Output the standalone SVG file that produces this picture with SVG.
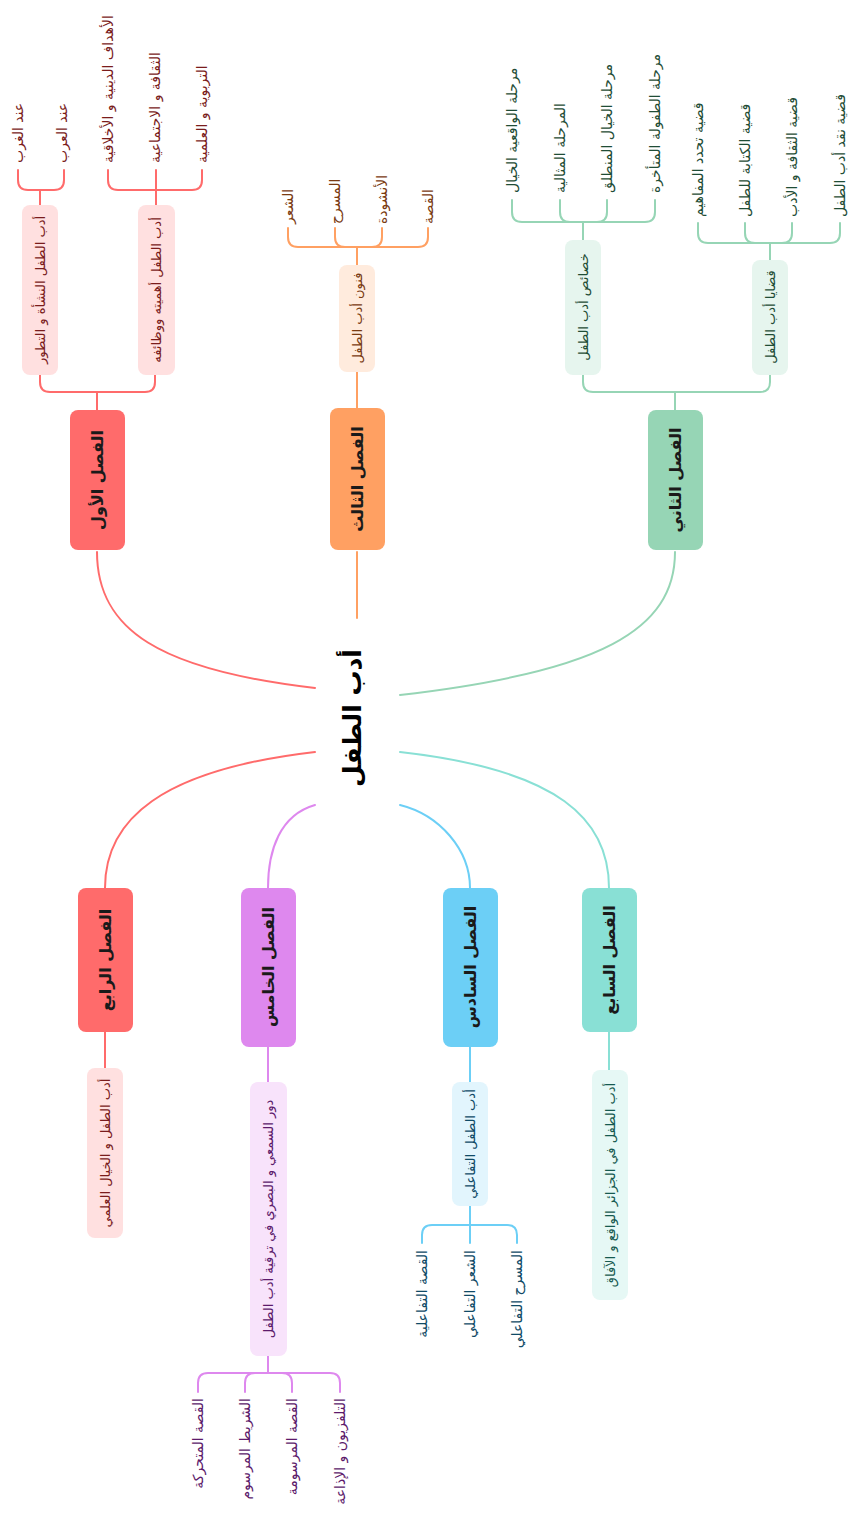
<svg xmlns="http://www.w3.org/2000/svg" width="849" height="1517" viewBox="0 0 849 1517">
<style>
text{font-family:"DejaVu Sans","Noto Sans",sans-serif;dominant-baseline:central}
.main{font-size:16px;font-weight:bold;fill:#1a1a1a;text-anchor:middle}
.sub{font-size:13px;text-anchor:middle}
.leafT{font-size:14px;text-anchor:start}
.leafB{font-size:14px;text-anchor:end}
.ln{fill:none;stroke-width:2;stroke-linecap:round}
.red{stroke:#FF6B6B}.org{stroke:#FFA062}.grn{stroke:#96D5B5}.pur{stroke:#DE88EE}.blu{stroke:#6CCFF6}.tea{stroke:#89E0D5}
.tRed{fill:#7a1c1c}.tOrg{fill:#7a3b12}.tGrn{fill:#1f4d36}.tPur{fill:#5c1a6b}.tBlu{fill:#0f4a66}.tTea{fill:#165a50}
</style>
<g id="connectors">
<path class="ln red" d="M315,688 C160,670 97,630 97,552"/>
<path class="ln grn" d="M400,695 C600,672 675,630 675,552"/>
<path class="ln org" d="M357,618 L357,552"/>
<path class="ln red" d="M315,752 C160,770 105,820 105,888"/>
<path class="ln pur" d="M315,805 C280,815 268,850 268,888"/>
<path class="ln blu" d="M400,805 C440,815 470,850 470,888"/>
<path class="ln tea" d="M400,752 C560,770 609,820 609,888"/>
<path class="ln red" d="M97,410 L97,392 M40,375 L40,382 Q40,392 50,392 L145,392 Q155,392 155,382 L155,375"/>
<path class="ln red" d="M40,205 L40,190 M18,170 L18,180 Q18,190 28,190 L54,190 Q64,190 64,180 L64,170"/>
<path class="ln red" d="M156,205 L156,190 M108,170 L108,180 Q108,190 118,190 L192,190 Q202,190 202,180 L202,170 M156,190 L156,170"/>
<path class="ln org" d="M357,408 L357,372 M357,265 L357,247 M288,228 L288,237 Q288,247 298,247 L418,247 Q428,247 428,237 L428,228 M335,228 L335,237 Q335,247 345,247 M382,228 L382,237 Q382,247 372,247"/>
<path class="ln grn" d="M675,410 L675,392 M583,375 L583,382 Q583,392 593,392 L760,392 Q770,392 770,382 L770,375"/>
<path class="ln grn" d="M583,240 L583,222 M512,200 L512,212 Q512,222 522,222 L645,222 Q655,222 655,212 L655,200 M560,200 L560,212 Q560,222 570,222 M607,200 L607,212 Q607,222 597,222"/>
<path class="ln grn" d="M770,260 L770,243 M698,223 L698,233 Q698,243 708,243 L830,243 Q840,243 840,233 L840,223 M745,223 L745,233 Q745,243 755,243 M792,223 L792,233 Q792,243 782,243"/>
<path class="ln red" d="M105,1032 L105,1068"/>
<path class="ln pur" d="M268,1047 L268,1082 M268,1356 L268,1373 M198,1392 L198,1383 Q198,1373 208,1373 L330,1373 Q340,1373 340,1383 L340,1392 M245,1392 L245,1383 Q245,1373 255,1373 M292,1392 L292,1383 Q292,1373 282,1373"/>
<path class="ln blu" d="M470,1047 L470,1082 M470,1206 L470,1243 M422,1243 L422,1235 Q422,1225 432,1225 L507,1225 Q517,1225 517,1235 L517,1243"/>
<path class="ln tea" d="M609,1032 L609,1070"/>
</g>
<g id="center">
<text x="352" y="718" transform="rotate(-90 352 718)" style="font-size:25px;font-weight:bold;fill:#000;text-anchor:middle">أدب الطفل</text>
</g>
<g id="ch1">
<rect x="70" y="410" width="55" height="140" rx="8" fill="#FF6B6B"/>
<text class="main" x="97" y="480" transform="rotate(-90 97 480)">الفصل الأول</text>
<rect x="22" y="205" width="36" height="170" rx="8" fill="#FFE0E0"/>
<text class="sub tRed" x="40" y="290" transform="rotate(-90 40 290)">أدب الطفل النشأة و التطور</text>
<rect x="138" y="205" width="37" height="170" rx="8" fill="#FFE0E0"/>
<text class="sub tRed" x="156" y="290" transform="rotate(-90 156 290)">أدب الطفل أهميته ووظائفه</text>
<text class="leafT tRed" x="18" y="163" transform="rotate(-90 18 163)">عند الغرب</text>
<text class="leafT tRed" x="62" y="163" transform="rotate(-90 62 163)">عند العرب</text>
<text class="leafT tRed" x="108" y="163" transform="rotate(-90 108 163)">الأهداف الدينية و الأخلاقية</text>
<text class="leafT tRed" x="155" y="163" transform="rotate(-90 155 163)">الثقافة و الاجتماعية</text>
<text class="leafT tRed" x="202" y="163" transform="rotate(-90 202 163)">التربوية و العلمية</text>
</g>
<g id="ch3">
<rect x="330" y="408" width="55" height="142" rx="8" fill="#FFA062"/>
<text class="main" x="357" y="479" transform="rotate(-90 357 479)">الفصل الثالث</text>
<rect x="339" y="265" width="36" height="107" rx="8" fill="#FFEBDD"/>
<text class="sub tOrg" x="357" y="318" transform="rotate(-90 357 318)">فنون أدب الطفل</text>
<text class="leafT tOrg" x="288" y="224" transform="rotate(-90 288 224)">الشعر</text>
<text class="leafT tOrg" x="335" y="224" transform="rotate(-90 335 224)">المسرح</text>
<text class="leafT tOrg" x="382" y="224" transform="rotate(-90 382 224)">الأنشودة</text>
<text class="leafT tOrg" x="428" y="224" transform="rotate(-90 428 224)">القصة</text>
</g>
<g id="ch2">
<rect x="648" y="410" width="55" height="140" rx="8" fill="#96D5B5"/>
<text class="main" x="675" y="480" transform="rotate(-90 675 480)">الفصل الثاني</text>
<rect x="565" y="240" width="36" height="135" rx="8" fill="#E6F5EE"/>
<text class="sub tGrn" x="583" y="307" transform="rotate(-90 583 307)">خصائص أدب الطفل</text>
<rect x="752" y="260" width="36" height="115" rx="8" fill="#E6F5EE"/>
<text class="sub tGrn" x="770" y="317" transform="rotate(-90 770 317)">قضايا أدب الطفل</text>
<text class="leafT tGrn" x="512" y="193" transform="rotate(-90 512 193)">مرحلة الواقعية الخيال</text>
<text class="leafT tGrn" x="560" y="193" transform="rotate(-90 560 193)">المرحلة المثالية</text>
<text class="leafT tGrn" x="607" y="193" transform="rotate(-90 607 193)">مرحلة الخيال المنطلق</text>
<text class="leafT tGrn" x="655" y="193" transform="rotate(-90 655 193)">مرحلة الطفولة المتأخرة</text>
<text class="leafT tGrn" x="698" y="217" transform="rotate(-90 698 217)">قضية تحدد المفاهيم</text>
<text class="leafT tGrn" x="745" y="217" transform="rotate(-90 745 217)">قضية الكتابة للطفل</text>
<text class="leafT tGrn" x="792" y="217" transform="rotate(-90 792 217)">قضية الثقافة و الأدب</text>
<text class="leafT tGrn" x="840" y="217" transform="rotate(-90 840 217)">قضية نقد أدب الطفل</text>
</g>
<g id="ch4">
<rect x="78" y="888" width="55" height="144" rx="8" fill="#FF6B6B"/>
<text class="main" x="105" y="960" transform="rotate(-90 105 960)">الفصل الرابع</text>
<rect x="87" y="1068" width="36" height="170" rx="8" fill="#FFE0E0"/>
<text class="sub tRed" x="105" y="1153" transform="rotate(-90 105 1153)">أدب الطفل و الخيال العلمي</text>
</g>
<g id="ch5">
<rect x="241" y="888" width="55" height="159" rx="8" fill="#DE88EE"/>
<text class="main" x="268" y="967" transform="rotate(-90 268 967)">الفصل الخامس</text>
<rect x="250" y="1082" width="37" height="274" rx="8" fill="#F8E3FB"/>
<text class="sub tPur" x="268" y="1219" transform="rotate(-90 268 1219)">دور السمعي و البصري في ترقية أدب الطفل</text>
<text class="leafB tPur" x="198" y="1398" transform="rotate(-90 198 1398)">القصة المتحركة</text>
<text class="leafB tPur" x="245" y="1398" transform="rotate(-90 245 1398)">الشريط المرسوم</text>
<text class="leafB tPur" x="292" y="1398" transform="rotate(-90 292 1398)">القصة المرسومة</text>
<text class="leafB tPur" x="340" y="1398" transform="rotate(-90 340 1398)">التلفزيون و الإذاعة</text>
</g>
<g id="ch6">
<rect x="443" y="888" width="55" height="159" rx="8" fill="#6CCFF6"/>
<text class="main" x="470" y="967" transform="rotate(-90 470 967)">الفصل السادس</text>
<rect x="452" y="1082" width="36" height="124" rx="8" fill="#E2F5FD"/>
<text class="sub tBlu" x="470" y="1144" transform="rotate(-90 470 1144)">أدب الطفل التفاعلي</text>
<text class="leafB tBlu" x="422" y="1250" transform="rotate(-90 422 1250)">القصة التفاعلية</text>
<text class="leafB tBlu" x="470" y="1250" transform="rotate(-90 470 1250)">الشعر التفاعلي</text>
<text class="leafB tBlu" x="517" y="1250" transform="rotate(-90 517 1250)">المسرح التفاعلي</text>
</g>
<g id="ch7">
<rect x="582" y="888" width="55" height="144" rx="8" fill="#89E0D5"/>
<text class="main" x="609" y="960" transform="rotate(-90 609 960)">الفصل السابع</text>
<rect x="592" y="1070" width="36" height="230" rx="8" fill="#E6F8F5"/>
<text class="sub tTea" x="610" y="1185" transform="rotate(-90 610 1185)">أدب الطفل في الجزائر الواقع و الآفاق</text>
</g>
</svg>
